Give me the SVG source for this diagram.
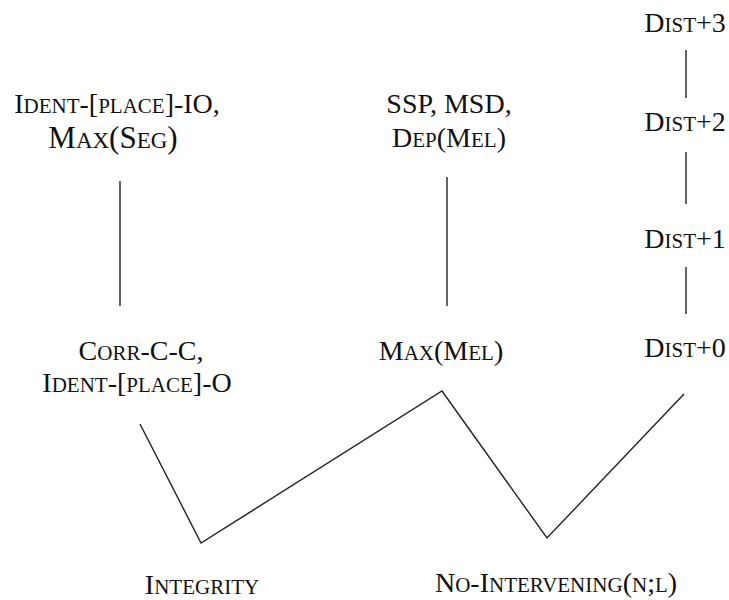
<svg xmlns="http://www.w3.org/2000/svg" width="729" height="600" viewBox="0 0 729 600">
<style>
text{font-family:"Liberation Serif","Times New Roman",serif;font-size:28px;fill:#111;text-anchor:middle}
.s{font-size:21px}
.c{stroke:#222;stroke-width:1.4;fill:none}
</style>
<rect width="729" height="600" fill="#fff"/>
<g id="n-identio"><text x="117" y="113">I<tspan class="s">DENT</tspan>-[<tspan class="s">PLACE</tspan>]-IO,</text>
<text x="113" y="148" style="font-size:31px">M<tspan style="font-size:23px">AX</tspan>(S<tspan style="font-size:23px">EG</tspan>)</text></g>
<g id="n-ssp"><text x="449" y="113">SSP, MSD,</text>
<text x="449" y="147">D<tspan class="s">EP</tspan>(M<tspan class="s">EL</tspan>)</text></g>
<g id="n-dist3"><text x="685" y="32">D<tspan class="s">IST</tspan>+3</text></g>
<g id="n-dist2"><text x="685" y="131">D<tspan class="s">IST</tspan>+2</text></g>
<g id="n-dist1"><text x="685" y="248">D<tspan class="s">IST</tspan>+1</text></g>
<g id="n-dist0"><text x="685" y="357">D<tspan class="s">IST</tspan>+0</text></g>
<g id="n-corr"><text x="141" y="360">C<tspan class="s">ORR</tspan>-C-C,</text>
<text x="137" y="392">I<tspan class="s">DENT</tspan>-[<tspan class="s">PLACE</tspan>]-O</text></g>
<g id="n-maxmel"><text x="441" y="360">M<tspan class="s">AX</tspan>(M<tspan class="s">EL</tspan>)</text></g>
<g id="n-integrity"><text x="202" y="594">I<tspan class="s">NTEGRITY</tspan></text></g>
<g id="n-nointervening"><text x="556" y="592">N<tspan class="s">O</tspan>-I<tspan class="s">NTERVENING</tspan>(<tspan class="s">N</tspan>;<tspan class="s">L</tspan>)</text></g>
<g id="connectors">
<line class="c" x1="120" y1="181" x2="120" y2="306"/>
<line class="c" x1="447" y1="177" x2="447" y2="306"/>
<line class="c" x1="686" y1="50" x2="686" y2="98"/>
<line class="c" x1="686" y1="152" x2="686" y2="204"/>
<line class="c" x1="686" y1="267" x2="686" y2="314"/>
<polyline class="c" points="140,424 201,543 442,391 547,538 684,394"/>
</g>
</svg>
